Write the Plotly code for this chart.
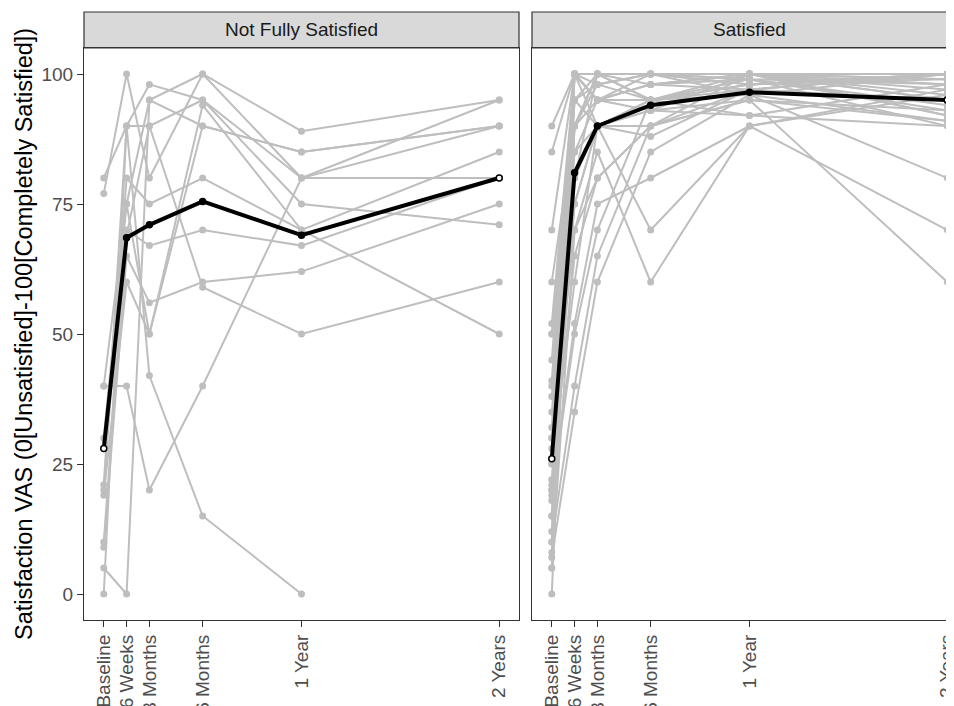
import plotly.graph_objects as go

# ---------------- data ----------------
weeks = [0, 6, 12, 26, 52, 104]
tick_labels = ["Baseline", "6 Weeks", "3 Months", "6 Months", "1 Year", "2 Years"]
panels = ["Not Fully Satisfied", "Satisfied"]

# individual patients, Not Fully Satisfied (None = not observed)
nfs_patients = [
    [80, 90, 98, 95, 75, 71],
    [77, 100, 80, 100, 80, 95],
    [40, 40, 20, 40, 80, 90],
    [30, 75, 95, 100, 89, 95],
    [20, 80, 75, 80, 70, 85],
    [19, 60, 50, 94, 70, 50],
    [10, 70, 67, 70, 67, 80],
    [9, 65, 56, 60, 62, 75],
    [5, 0, 95, 90, 85, 90],
    [0, 90, 42, 15, 0, None],
    [21, 90, 90, 59, 50, 60],
    [None, 69, 90, 95, 80, 80],
    [40, 75, 50, 90, 85, 90],
]

# individual patients, Satisfied
sat_patients = [
    [90, 100, 100, 100, 100, 100],
    [85, 100, 95, 98, 100, 99],
    [70, 100, 100, 95, 98, 100],
    [60, 90, 100, 100, 99, 98],
    [52, 100, 95, 95, 97, 95],
    [50, 95, 90, 90, 100, 97],
    [50, 80, 100, 100, 100, 96],
    [41, 100, 90, 93, 95, 93],
    [40, 90, 98, 100, 98, 100],
    [38, 85, 95, 98, 100, 92],
    [32, 100, 100, 100, 96, 80],
    [30, 75, 90, 95, 100, 100],
    [30, 70, 80, 90, 95, 91],
    [25, 100, 100, 98, 99, 90],
    [25, 60, 90, 88, 97, 100],
    [21, 90, 100, 100, 100, 95],
    [20, 100, 95, 93, 92, 98],
    [20, 52, 75, 80, 90, 70],
    [19, 50, 70, 95, 98, 100],
    [15, 95, 100, 100, 100, 99],
    [15, 80, 90, 70, 90, 96],
    [10, 40, 65, 90, 95, 60],
    [10, 100, 98, 95, 99, 94],
    [7, 35, 60, 85, 96, 100],
    [5, 90, 100, 100, 100, 92],
    [5, 70, 85, 60, 90, 97],
    [0, 100, 95, 98, 97, 100],
    [45, 100, 100, 100, 100, 98],
    [35, 85, 90, 95, 96, 91],
    [28, 95, 98, 100, 98, 99],
    [18, 75, 90, 93, 100, 95],
    [12, 100, 100, 95, 92, 90],
    [22, 65, 80, 90, 97, 100],
    [8, 90, 95, 100, 99, 93],
]

# group means (black line)
nfs_mean = [28, 68.5, 71, 75.5, 69, 80]
sat_mean = [26, 81, 90, 94, 96.5, 95]

y_ticks = [0, 25, 50, 75, 100]
y_title = "Satisfaction VAS (0[Unsatisfied]-100[Completely Satisfied])"

# ---------------- layout geometry (figure pixels) ----------------
W, H = 954, 706
FONT = "Liberation Sans, Arial, Helvetica, sans-serif"
GREY = "#BEBEBE"
BORDER = "#333333"

def px(x):
    return x / W

def py(y):
    return 1 - y / H

L0, L1 = 76, 511          # left panel
R0, R1 = 524, 959         # right panel (extends past the figure edge)
T, B = 40, 612            # panel top / bottom
ST = 4                    # strip top

left_dom = [px(L0), px(L1)]
right_dom = [px(R0), 1.0]
y_dom = [py(B), py(T)]

xr_full = [-5.2, 109.2]
scale = (L1 - L0) / (xr_full[1] - xr_full[0])
xr_right = [-5.2, -5.2 + (W - R0) / scale]

fig = go.Figure()

def add_panel(patients, mean, xa, ya):
    for p in patients:
        fig.add_trace(go.Scatter(
            x=weeks, y=p, mode="lines+markers", connectgaps=True,
            line=dict(color=GREY, width=2),
            marker=dict(color=GREY, size=7),
            xaxis=xa, yaxis=ya, showlegend=False, hoverinfo="skip"))
    fig.add_trace(go.Scatter(
        x=weeks, y=mean, mode="lines+markers",
        line=dict(color="black", width=4),
        marker=dict(color=["white"] + ["black"] * (len(weeks) - 2) + ["white"],
                    size=6, line=dict(color="black", width=1.5)),
        xaxis=xa, yaxis=ya, showlegend=False, hoverinfo="skip"))

add_panel(nfs_patients, nfs_mean, "x", "y")
add_panel(sat_patients, sat_mean, "x2", "y2")

xcommon = dict(
    tickmode="array", tickvals=weeks, ticktext=tick_labels, tickangle=-90,
    ticks="outside", ticklen=6, tickwidth=1.2, tickcolor=BORDER,
    tickfont=dict(family=FONT, size=19, color="#4D4D4D"),
    showgrid=False, zeroline=False, showline=True, linecolor=BORDER,
    linewidth=1.2, mirror=True, automargin=False,
)
fig.update_layout(
    width=W, height=H, margin=dict(l=0, r=0, t=0, b=0),
    paper_bgcolor="white", plot_bgcolor="white", template=None,
    showlegend=False,
    xaxis=dict(domain=left_dom, range=xr_full, anchor="y", **xcommon),
    xaxis2=dict(domain=right_dom, range=xr_right, anchor="y2", **xcommon),
    yaxis=dict(domain=y_dom, range=[-5, 105], anchor="x",
               tickmode="array", tickvals=y_ticks,
               ticks="outside", ticklen=6, tickwidth=1.2, tickcolor=BORDER,
               tickfont=dict(family=FONT, size=19, color="#4D4D4D"),
               showgrid=False, zeroline=False, showline=True,
               linecolor=BORDER, linewidth=1.2, mirror=True,
               automargin=False),
    yaxis2=dict(domain=y_dom, range=[-5, 105], anchor="x2",
                showticklabels=False, ticks="",
                showgrid=False, zeroline=False, showline=True,
                linecolor=BORDER, linewidth=1.2, mirror=False,
                automargin=False),
)

# facet strips
for (x0, x1), label in [((L0, L1), panels[0]), ((R0, R1), panels[1])]:
    fig.add_shape(type="rect", xref="paper", yref="paper",
                  x0=px(x0), x1=px(x1), y0=py(T), y1=py(ST),
                  fillcolor="#D9D9D9", line=dict(color=BORDER, width=1.2),
                  layer="below")
    fig.add_annotation(text=label, xref="paper", yref="paper",
                       x=px((x0 + x1) / 2), y=py((T + ST) / 2),
                       xanchor="center", yanchor="middle",
                       showarrow=False,
                       font=dict(family=FONT, size=19, color="#1A1A1A"))

fig.add_annotation(text=y_title, xref="paper", yref="paper",
                   x=px(16), y=py((T + B) / 2), xanchor="center",
                   yanchor="middle", textangle=-90, showarrow=False,
                   font=dict(family=FONT, size=23.5, color="black"))

fig.write_html("out.html")
